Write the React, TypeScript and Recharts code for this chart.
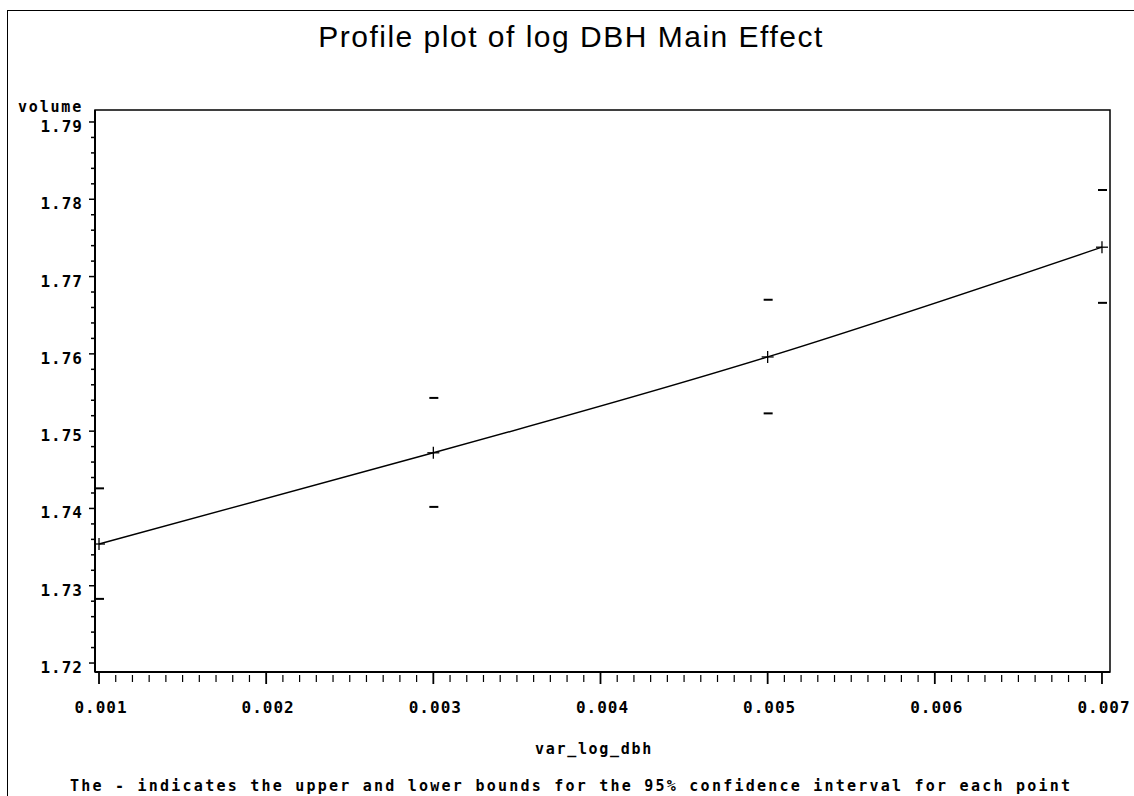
import React from "react"
import { ComposedChart, Line, XAxis, YAxis, ReferenceArea } from "recharts"

// values
const xLevels = [0.001, 0.003, 0.005, 0.007]
const estimate = [1.7354, 1.7472, 1.7596, 1.7738]
const upperBound = [1.7426, 1.7543, 1.767, 1.7812]
const lowerBound = [1.7283, 1.7402, 1.7523, 1.7666]

const xMajorTicks = [0.001, 0.002, 0.003, 0.004, 0.005, 0.006, 0.007]
const yMajorTicks = [1.72, 1.73, 1.74, 1.75, 1.76, 1.77, 1.78, 1.79]
const xMinorPerMajor = 10
const yMinorPerMajor = 5

const xDomain = [0.000976, 0.007048]
const yDomain = [1.71884, 1.79155]

const data = xLevels.map((x, i) => ({
  x,
  est: estimate[i],
  upper: upperBound[i],
  lower: lowerBound[i],
}))

// minor tick positions between the labelled ones
function withMinor(major: number[], per: number) {
  const out: number[] = []
  for (let i = 0; i < major.length - 1; i++) {
    const step = (major[i + 1] - major[i]) / per
    for (let k = 0; k < per; k++) out.push(+(major[i] + step * k).toFixed(6))
  }
  out.push(major[major.length - 1])
  return out
}
const xTicks = withMinor(xMajorTicks, xMinorPerMajor)
const yTicks = withMinor(yMajorTicks, yMinorPerMajor)

const isMajor = (v: number, major: number[]) => major.some((m) => Math.abs(m - v) < 1e-7)

const tickFont = {
  fontFamily: "DejaVu Sans Mono",
  fontWeight: "bold" as const,
  fontSize: 16,
  letterSpacing: 1,
}

function XTick(props: any) {
  const { x, y, payload } = props
  const major = isMajor(payload.value, xMajorTicks)
  return (
    <g>
      <line x1={x} x2={x} y1={y + (major ? 0 : 3)} y2={y + (major ? 12 : 10)} stroke="#000" strokeWidth={major ? 1.8 : 1.2} />
      {major && (
        <text x={x + 2} y={y + 41} textAnchor="middle" fill="#000" style={tickFont}>
          {payload.value.toFixed(3)}
        </text>
      )}
    </g>
  )
}

function YTick(props: any) {
  const { x, y, payload } = props
  const major = isMajor(payload.value, yMajorTicks)
  return (
    <g>
      <line x1={x} x2={x - (major ? 6 : 4)} y1={y} y2={y} stroke="#000" strokeWidth={1.5} />
      {major && (
        <text x={x - 12} y={y + 10} textAnchor="end" fill="#000" style={tickFont}>
          {payload.value.toFixed(2)}
        </text>
      )}
    </g>
  )
}

function PlusDot(props: any) {
  const { cx, cy } = props
  return (
    <g>
      <line x1={cx - 6} x2={cx + 6} y1={cy} y2={cy} stroke="#000" strokeWidth={1.3} />
      <line x1={cx} x2={cx} y1={cy - 6} y2={cy + 6} stroke="#000" strokeWidth={1.3} />
    </g>
  )
}

function DashDot(props: any) {
  const { cx, cy } = props
  return <line x1={cx - 4} x2={cx + 5} y1={cy} y2={cy} stroke="#000" strokeWidth={2} />
}

export default function App() {
  return (
    <div style={{ position: "absolute", left: 0, top: 0, width: 1134, height: 796, background: "#fff" }}>
      <div
        style={{
          position: "absolute",
          left: 7,
          top: 10,
          width: 1127,
          height: 786,
          borderTop: "1.5px solid #000",
          borderLeft: "1.5px solid #000",
          boxSizing: "border-box",
        }}
      />
      <ComposedChart width={1134} height={796} data={data} margin={{ top: 110, right: 24, bottom: 84, left: 10 }}>
        <XAxis
          dataKey="x"
          type="number"
          domain={xDomain}
          allowDataOverflow
          ticks={xTicks}
          interval={0}
          tickSize={0}
          tickMargin={0}
          tickLine={false}
          tick={<XTick />}
          axisLine={{ stroke: "#000", strokeWidth: 2 }}
          height={40}
        />
        <YAxis
          type="number"
          domain={yDomain}
          allowDataOverflow
          ticks={yTicks}
          interval={0}
          tickSize={0}
          tickMargin={0}
          tickLine={false}
          tick={<YTick />}
          axisLine={{ stroke: "#000", strokeWidth: 2 }}
          width={85}
        />
        <ReferenceArea
          x1={xDomain[0]}
          x2={xDomain[1]}
          y1={yDomain[0]}
          y2={yDomain[1]}
          fill="none"
          stroke="#000"
          strokeWidth={1.5}
          ifOverflow="visible"
        />
        <Line
          dataKey="est"
          type="natural"
          stroke="#000"
          strokeWidth={1.4}
          dot={(p: any) => <PlusDot key={`p${p.index}`} {...p} />}
          isAnimationActive={false}
        />
        <Line
          dataKey="upper"
          stroke="none"
          dot={(p: any) => <DashDot key={`u${p.index}`} {...p} />}
          isAnimationActive={false}
        />
        <Line
          dataKey="lower"
          stroke="none"
          dot={(p: any) => <DashDot key={`l${p.index}`} {...p} />}
          isAnimationActive={false}
        />
      </ComposedChart>
      <svg width={1134} height={796} style={{ position: "absolute", left: 0, top: 0, pointerEvents: "none" }}>
        <text x={571} y={47} textAnchor="middle" fill="#000" style={{ fontFamily: "Liberation Sans", fontSize: 30, letterSpacing: 1.5 }}>
          Profile plot of log DBH Main Effect
        </text>
        <text x={18} y={112} fill="#000" style={{ ...tickFont, fontSize: 15, letterSpacing: 1.8 }}>
          volume
        </text>
        <text x={594} y={754} textAnchor="middle" fill="#000" style={{ ...tickFont, fontSize: 15, letterSpacing: 1.7 }}>
          var_log_dbh
        </text>
        <text
          x={70}
          y={791}
          textLength={1000}
          lengthAdjust="spacing"
          fill="#000"
          style={{ fontFamily: "DejaVu Sans Mono", fontWeight: "bold", fontSize: 15 }}
        >
          The - indicates the upper and lower bounds for the 95% confidence interval for each point
        </text>
      </svg>
    </div>
  )
}
